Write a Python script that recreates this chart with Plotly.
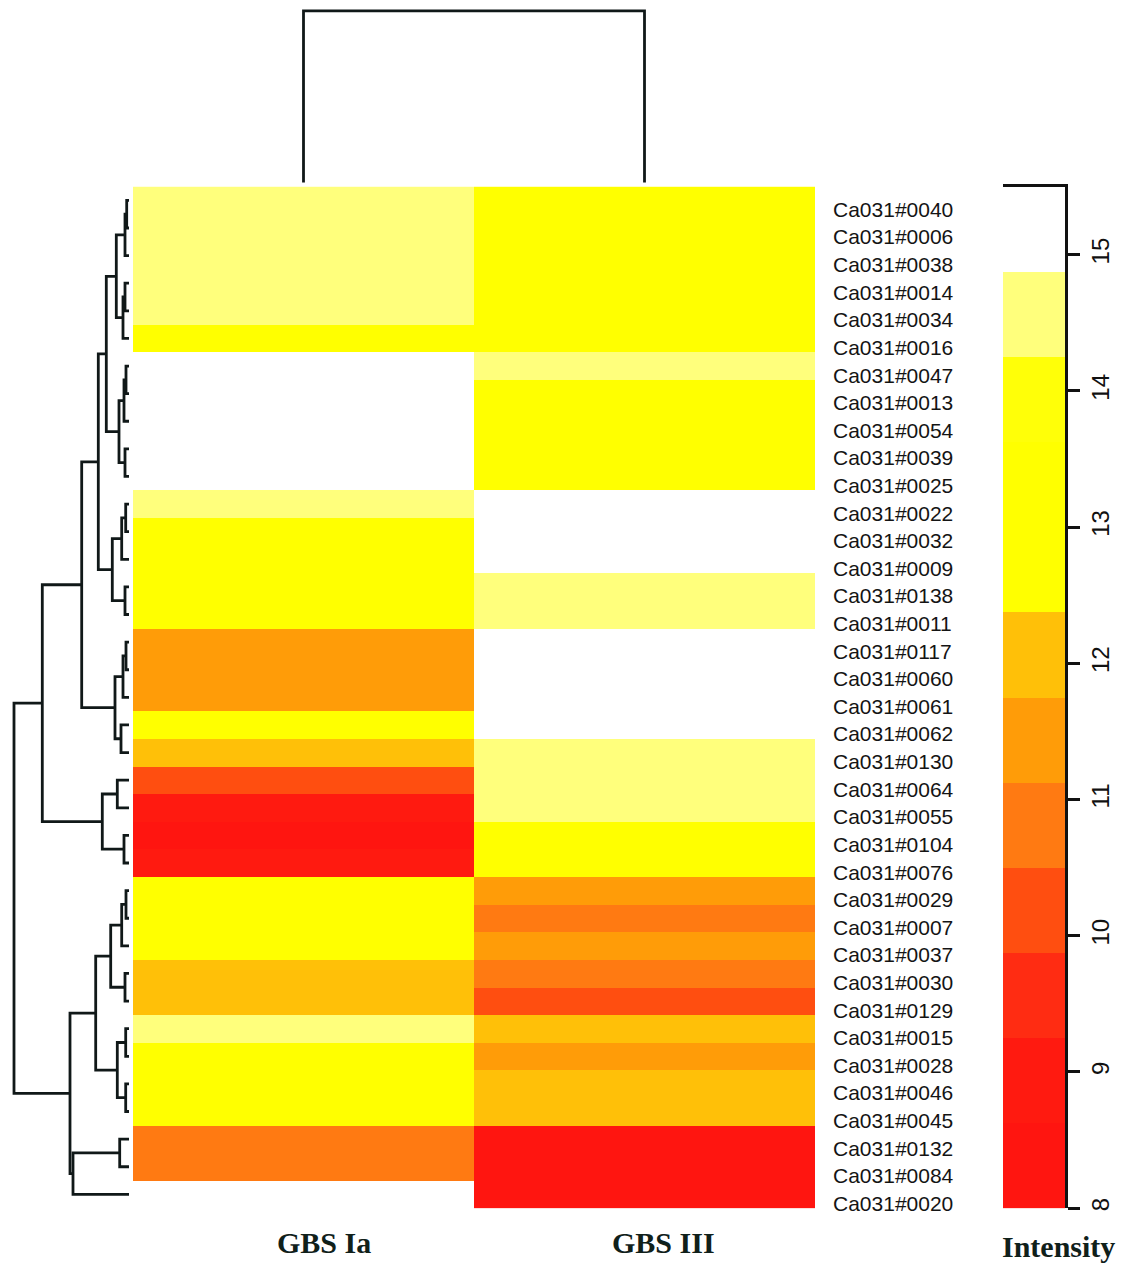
import plotly.graph_objects as go

W, H = 1132, 1271

# ---------------- data ----------------
row_labels = [
    "Ca031#0040", "Ca031#0006", "Ca031#0038", "Ca031#0014", "Ca031#0034", "Ca031#0016",
    "Ca031#0047", "Ca031#0013", "Ca031#0054", "Ca031#0039", "Ca031#0025", "Ca031#0022",
    "Ca031#0032", "Ca031#0009", "Ca031#0138", "Ca031#0011", "Ca031#0117", "Ca031#0060",
    "Ca031#0061", "Ca031#0062", "Ca031#0130", "Ca031#0064", "Ca031#0055", "Ca031#0104",
    "Ca031#0076", "Ca031#0029", "Ca031#0007", "Ca031#0037", "Ca031#0030", "Ca031#0129",
    "Ca031#0015", "Ca031#0028", "Ca031#0046", "Ca031#0045", "Ca031#0132", "Ca031#0084",
    "Ca031#0020",
]
col_labels = ["GBS Ia", "GBS III"]

gbs_ia = [
    14.6, 14.55, 14.6, 14.5, 14.6, 13.5,
    15.2, 15.2, 15.1, 15.2, 15.1, 14.5,
    13.4, 13.3, 13.5, 13.4, 11.4, 11.5,
    11.4, 13.3, 12.0, 10.2, 8.7, 8.6,
    8.8, 13.3, 13.4, 13.2, 12.0, 12.1,
    14.5, 13.4, 13.3, 13.4, 10.8, 10.9,
    15.1,
]
gbs_iii = [
    13.6, 13.5, 13.6, 13.5, 13.6, 13.5,
    14.5, 13.5, 13.4, 13.5, 13.4, 15.1,
    15.2, 15.1, 14.6, 14.5, 15.2, 15.1,
    15.2, 15.2, 14.5, 14.6, 14.5, 13.4,
    13.3, 11.4, 10.8, 11.5, 10.9, 10.1,
    12.1, 11.4, 12.0, 12.0, 8.6, 8.5,
    8.6,
]

# intensity scale: 12 equal bins from 8 to 15.5 (heat colours)
z_lo, z_hi = 8.0, 15.5
bin_colors = [
    "#FF1510", "#FF1A10", "#FF2C12", "#FF4E10", "#FF7A12", "#FF9C08",
    "#FFC008", "#FFFF00", "#FFFF00", "#FFFF08", "#FFFF7C", "#FFFFFF",
]
cb_ticks = [8, 9, 10, 11, 12, 13, 14, 15]

# hierarchical clustering merges (R hclust style):
# negative = leaf (1-based row index), positive = earlier merge (1-based)
row_merge = [
    (-1, -2, 2.3), (1, -3, 4.0), (-4, -5, 4.0), (3, -6, 6.0), (2, 4, 12.7),
    (-7, -8, 3.0), (6, -9, 5.0), (-10, -11, 4.0), (7, 8, 10.0), (5, 9, 22.7),
    (-12, -13, 3.3), (11, -14, 7.3), (-15, -16, 4.0), (12, 13, 16.7), (10, 14, 30.7),
    (-17, -18, 3.0), (16, -19, 6.0), (-20, -21, 8.0), (17, 18, 14.0), (15, 19, 47.3),
    (-22, -23, 11.7), (-24, -25, 5.0), (21, 22, 26.7), (20, 23, 86.7),
    (-26, -27, 3.0), (25, -28, 7.3), (-29, -30, 4.0), (26, 27, 18.3),
    (-31, -32, 3.3), (-33, -34, 3.3), (29, 30, 11.7), (28, 31, 33.3),
    (-35, -36, 9.3), (33, -37, 56.0), (32, 34, 59.0), (24, 35, 115.0),
]
col_merge = [(-1, -2, 40.0)]


def dendro_segments(merge):
    pos, hgt = {}, {}
    hs, ps = [], []

    def get(node):
        if node < 0:
            return -node - 1, 0.0
        return pos[node], hgt[node]

    for k, (a, b, h) in enumerate(merge, start=1):
        pa, ha = get(a)
        pb, hb = get(b)
        hs += [ha, h, h, hb, None]
        ps += [pa, pa, pb, pb, None]
        pos[k] = (pa + pb) / 2.0
        hgt[k] = h
    return hs, ps


def stepped_scale(colors):
    n = len(colors)
    sc = []
    for i, c in enumerate(colors):
        sc.append([i / n, c])
        sc.append([(i + 1) / n, c])
    return sc


scale = stepped_scale(bin_colors)
n_rows = len(row_labels)


def px_x(p):
    return p / W


def px_y(p):
    return 1 - p / H


hm_top, hm_bot = 187, 1211
hm_left, hm_right = 133, 815

fig = go.Figure()

# main heatmap
fig.add_trace(go.Heatmap(
    z=[[a, b] for a, b in zip(gbs_ia, gbs_iii)],
    x=[0, 1], y=list(range(n_rows)),
    colorscale=scale, zmin=z_lo, zmax=z_hi, showscale=False,
    xaxis="x", yaxis="y", hoverinfo="skip",
))

line_style = dict(color="#101818", width=2.8)

# row dendrogram
rh, rp = dendro_segments(row_merge)
fig.add_trace(go.Scatter(
    x=rh, y=rp, mode="lines", line=line_style,
    xaxis="x3", yaxis="y", hoverinfo="skip", showlegend=False,
))

# column dendrogram
ch, cp = dendro_segments(col_merge)
fig.add_trace(go.Scatter(
    x=cp, y=ch, mode="lines", line=line_style,
    xaxis="x", yaxis="y4", hoverinfo="skip", showlegend=False,
))

# colour key
n_bins = len(bin_colors)
step = (z_hi - z_lo) / n_bins
mids = [z_lo + step * (i + 0.5) for i in range(n_bins)]
fig.add_trace(go.Heatmap(
    z=[[m] for m in mids], x=[0], y=mids,
    colorscale=scale, zmin=z_lo, zmax=z_hi, showscale=False,
    xaxis="x5", yaxis="y5", hoverinfo="skip",
))

hidden = dict(visible=False, showgrid=False, zeroline=False)

leaf_px = 129
fig.update_layout(
    width=W, height=H, autosize=False,
    margin=dict(l=0, r=0, t=0, b=0),
    paper_bgcolor="white", plot_bgcolor="rgba(0,0,0,0)",
    showlegend=False,
    xaxis=dict(domain=[px_x(hm_left), px_x(hm_right)], range=[-0.5, 1.5], anchor="y", **hidden),
    yaxis=dict(domain=[px_y(hm_bot), px_y(hm_top)], range=[n_rows - 0.5, -0.5], anchor="x", **hidden),
    xaxis3=dict(domain=[0, px_x(hm_left)], range=[leaf_px, leaf_px - hm_left], anchor="y", **hidden),
    yaxis4=dict(domain=[px_y(hm_top), 1],
                range=[-(hm_top - 183) / ((183 - 11) / 40.0), 183 / ((183 - 11) / 40.0)],
                anchor="x", **hidden),
    xaxis5=dict(domain=[px_x(1003), px_x(1065)], range=[-0.5, 0.5], anchor="y5",
                side="top", showline=True, linecolor="#111", linewidth=2.5,
                showticklabels=False, ticks="", showgrid=False, zeroline=False),
    yaxis5=dict(domain=[px_y(hm_bot), px_y(hm_top)], range=[z_lo, z_hi], anchor="x5",
                side="right", showline=True, linecolor="#111", linewidth=2.5,
                tickmode="array", tickvals=cb_ticks, ticktext=[str(t) for t in cb_ticks],
                ticks="outside", ticklen=12, tickwidth=2.5, tickcolor="#111",
                tickangle=-90, showgrid=False, zeroline=False,
                tickfont=dict(family="Liberation Sans, Arial, sans-serif", size=24, color="#111")),
)

annotations = []
for i, lab in enumerate(row_labels):
    annotations.append(dict(
        text=lab, xref="paper", yref="y", x=px_x(831), y=i, yshift=-9,
        xanchor="left", yanchor="middle", showarrow=False,
        font=dict(family="Liberation Sans, Arial, sans-serif", size=21, color="#141414"),
    ))

serif_bold = dict(family="Liberation Serif, Times New Roman, serif", size=30, color="#10201a")
annotations.append(dict(text="<b>" + col_labels[0] + "</b>", xref="paper", yref="paper",
                        x=px_x(324), y=px_y(1245), xanchor="center", yanchor="middle",
                        showarrow=False, font=serif_bold))
annotations.append(dict(text="<b>" + col_labels[1] + "</b>", xref="paper", yref="paper",
                        x=px_x(663), y=px_y(1245), xanchor="center", yanchor="middle",
                        showarrow=False, font=serif_bold))
annotations.append(dict(text="<b>Intensity</b>", xref="paper", yref="paper",
                        x=px_x(1058), y=px_y(1249), xanchor="center", yanchor="middle",
                        showarrow=False, font=serif_bold))
fig.update_layout(annotations=annotations)

fig.write_html("out.html")
